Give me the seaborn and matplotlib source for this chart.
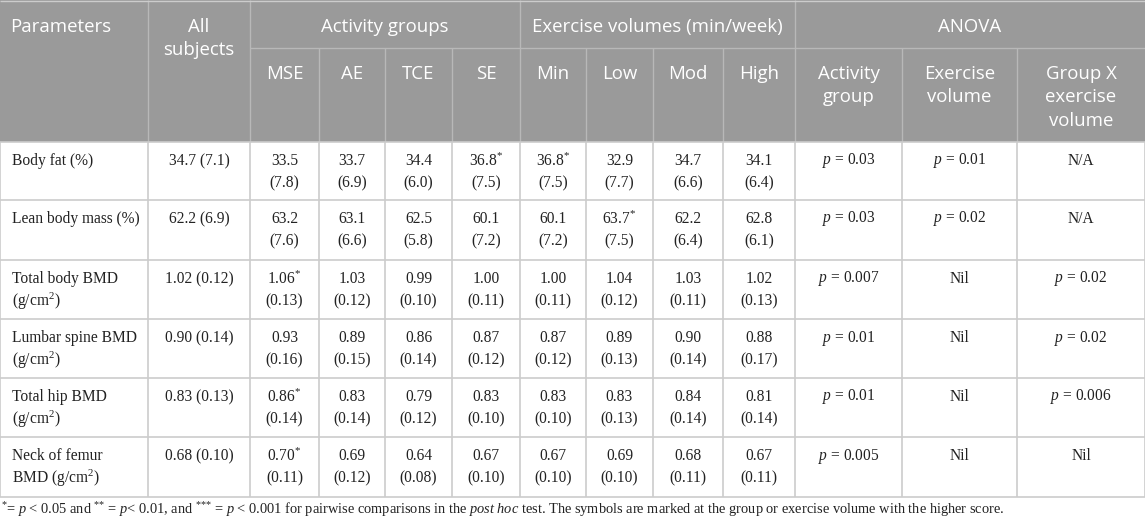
import matplotlib
matplotlib.use("Agg")
import matplotlib.pyplot as plt
import seaborn as sns
from matplotlib.patches import Rectangle

# ---- table data ----
parameters = ["Body fat (%)", "Lean body mass (%)", "Total body BMD\n(g/cm$^{2}$)",
              "Lumbar spine BMD\n(g/cm$^{2}$)", "Total hip BMD\n(g/cm$^{2}$)",
              "Neck of femur\nBMD (g/cm$^{2}$)"]
all_subjects = ["34.7 (7.1)", "62.2 (6.9)", "1.02 (0.12)", "0.90 (0.14)", "0.83 (0.13)", "0.68 (0.10)"]

activity_groups = ["MSE", "AE", "TCE", "SE"]
mse = ["33.5|7.8", "63.2|7.6", "1.06*|0.13", "0.93|0.16", "0.86*|0.14", "0.70*|0.11"]
ae = ["33.7|6.9", "63.1|6.6", "1.03|0.12", "0.89|0.15", "0.83|0.14", "0.69|0.12"]
tce = ["34.4|6.0", "62.5|5.8", "0.99|0.10", "0.86|0.14", "0.79|0.12", "0.64|0.08"]
se = ["36.8*|7.5", "60.1|7.2", "1.00|0.11", "0.87|0.12", "0.83|0.10", "0.67|0.10"]

exercise_volumes = ["Min", "Low", "Mod", "High"]
vol_min = ["36.8*|7.5", "60.1|7.2", "1.00|0.11", "0.87|0.12", "0.83|0.10", "0.67|0.10"]
vol_low = ["32.9|7.7", "63.7*|7.5", "1.04|0.12", "0.89|0.13", "0.83|0.13", "0.69|0.10"]
vol_mod = ["34.7|6.6", "62.2|6.4", "1.03|0.11", "0.90|0.14", "0.84|0.14", "0.68|0.11"]
vol_high = ["34.1|6.4", "62.8|6.1", "1.02|0.13", "0.88|0.17", "0.81|0.14", "0.67|0.11"]

anova_headers = ["Activity\ngroup", "Exercise\nvolume", "Group X\nexercise\nvolume"]
anova_group = ["0.03", "0.03", "0.007", "0.01", "0.01", "0.005"]
anova_volume = ["0.01", "0.02", "Nil", "Nil", "Nil", "Nil"]
anova_inter = ["N/A", "N/A", "0.02", "0.02", "0.006", "Nil"]

footnote = ("$^{\\text{*}}$= $p$ < 0.05 and $^{\\text{**}}$ = $p$< 0.01, and $^{\\text{***}}$ = $p$ < 0.001 "
            "for pairwise comparisons in the $\\mathit{post\\ hoc}$ test. The symbols are marked at "
            "the group or exercise volume with the higher score.")

# ---- layout ----
col_edges = [0, 148, 250, 319, 385, 452, 520, 586, 653, 723, 795, 902, 1017, 1145]
row_edges = [142, 200, 260, 319, 378, 437, 497]
head_split = 48

HEAD_BG = "#9a9a9a"
HEAD_LINE = "#b8b8b8"
GRID = "#cccccc"
SANS = ["Open Sans", "DejaVu Sans"]
SERIF = ["Liberation Serif", "DejaVu Serif"]
HEAD_SIZE = 13.4
BODY_SIZE = 11.2

sns.set_theme(style="white")
plt.rcParams["mathtext.fontset"] = "custom"
plt.rcParams["mathtext.rm"] = "Liberation Serif"
plt.rcParams["mathtext.it"] = "Liberation Serif:italic"
plt.rcParams["font.family"] = SERIF

fig = plt.figure(figsize=(11.45, 5.22), dpi=100)
ax = fig.add_axes([0, 0, 1, 1])
ax.set_xlim(0, 1145)
ax.set_ylim(522, 0)
ax.axis("off")


def cell_text(x, y0, text, step, ha="center", family=SERIF, size=BODY_SIZE, color="#222222"):
    for i, line in enumerate(text.split("\n")):
        ax.text(x, y0 + i * step, line, ha=ha, va="center", family=family,
                fontsize=size, color=color)


def fmt_val(v):
    if "|" in v:
        m, s = v.split("|")
        if m.endswith("*"):
            m = m[:-1] + "$^{\\text{*}}$"
        return f"{m}\n({s})"
    if v in ("Nil", "N/A"):
        return v
    return f"$p$ = {v}"


# header background
ax.add_patch(Rectangle((0, 0), 1145, row_edges[0], facecolor=HEAD_BG, edgecolor="none"))

# header lines
ax.hlines(head_split, col_edges[2], 1145, color=HEAD_LINE, lw=1)
for x in [148, 250, 520, 795]:
    ax.vlines(x, 0, row_edges[0], color=HEAD_LINE, lw=1)
for x in [319, 385, 452, 586, 653, 723, 902, 1017]:
    ax.vlines(x, head_split, row_edges[0], color=HEAD_LINE, lw=1)

# body grid
ax.hlines(row_edges, 0, 1145, color=GRID, lw=1.2)
ax.vlines(col_edges, row_edges[0], row_edges[-1], color=GRID, lw=1.2)
ax.hlines(0.5, 0, 1145, color=GRID, lw=1)

# header text
hcol = "white"
cell_text(10, 27, "Parameters", 23, ha="left", family=SANS, size=HEAD_SIZE, color=hcol)
cell_text(199, 27, "All\nsubjects", 23, family=SANS, size=HEAD_SIZE, color=hcol)
cell_text((250 + 520) / 2, 27, "Activity groups", 23, family=SANS, size=HEAD_SIZE, color=hcol)
cell_text((520 + 795) / 2, 27, "Exercise volumes (min/week)", 23, family=SANS, size=HEAD_SIZE, color=hcol)
cell_text((795 + 1145) / 2, 27, "ANOVA", 23, family=SANS, size=HEAD_SIZE, color=hcol)
sub_heads = activity_groups + exercise_volumes + anova_headers
for j, h in enumerate(sub_heads):
    xc = (col_edges[j + 2] + col_edges[j + 3]) / 2
    cell_text(xc, 74, h, 23.5, family=SANS, size=HEAD_SIZE, color=hcol)

# body text
columns = [mse, ae, tce, se, vol_min, vol_low, vol_mod, vol_high,
           anova_group, anova_volume, anova_inter]
for i in range(len(parameters)):
    y0 = row_edges[i] + 19
    cell_text(12, y0, parameters[i], 22, ha="left")
    cell_text(199, y0, all_subjects[i], 22)
    for j, col in enumerate(columns):
        xc = (col_edges[j + 2] + col_edges[j + 3]) / 2
        cell_text(xc, y0, fmt_val(col[i]), 22)

ax.text(1, 510, footnote, ha="left", va="center", family=SERIF, fontsize=10.4, color="#222222")

fig.savefig("out.png", dpi=100)
